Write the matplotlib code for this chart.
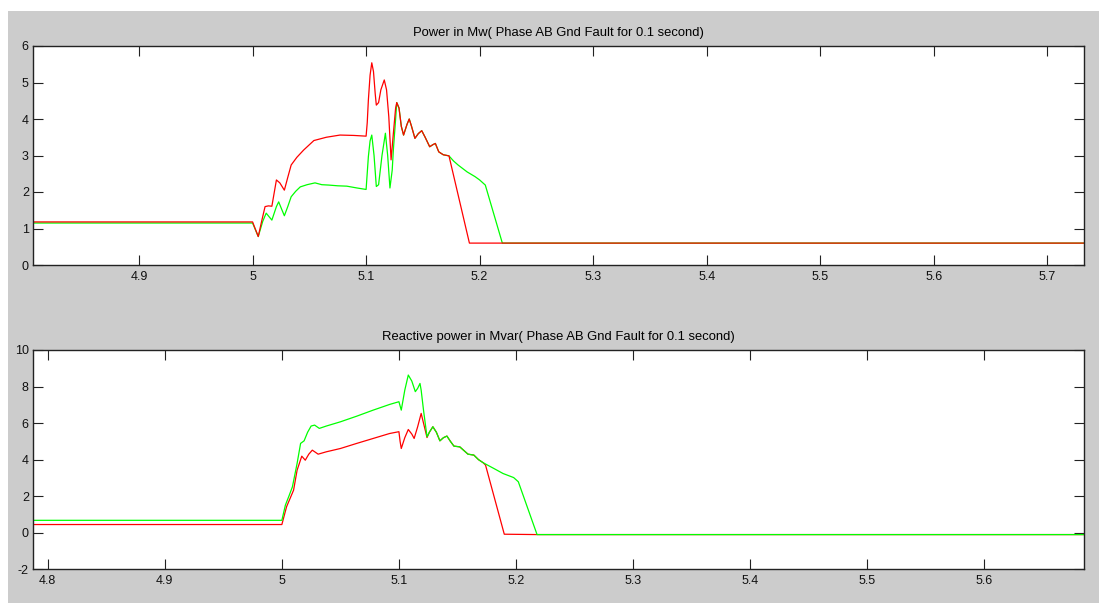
import numpy as np
import matplotlib
matplotlib.use('Agg')
import matplotlib.pyplot as plt
from matplotlib.patches import Rectangle

plt.rcParams['font.family'] = ['Liberation Sans', 'DejaVu Sans']
plt.rcParams['axes.unicode_minus'] = False

# ---- top plot: active power (MW) ----
t_p_red = [4.75, 5.0, 5.005, 5.008, 5.011, 5.014, 5.017, 5.021, 5.024, 5.028, 5.031,
           5.034, 5.039, 5.045, 5.054, 5.065, 5.077, 5.089, 5.1, 5.101, 5.102, 5.1035,
           5.105, 5.1065, 5.108, 5.109, 5.111, 5.113, 5.116, 5.118, 5.120, 5.122, 5.124,
           5.126]
p_red = [1.18, 1.18, 0.78, 1.2, 1.6, 1.62, 1.61, 2.33, 2.25, 2.05, 2.4,
         2.74, 2.95, 3.15, 3.41, 3.50, 3.56, 3.55, 3.53, 3.9, 4.52, 5.2,
         5.54, 5.3, 4.7, 4.38, 4.45, 4.8, 5.07, 4.8, 4.06, 2.88, 3.6,
         4.3]

t_p_green = [4.75, 5.0, 5.005, 5.009, 5.012, 5.017, 5.021, 5.023, 5.026, 5.028, 5.031,
             5.034, 5.038, 5.042, 5.048, 5.055, 5.061, 5.067, 5.075, 5.083, 5.092, 5.1,
             5.102, 5.1035, 5.105, 5.107, 5.109, 5.111, 5.114, 5.117, 5.119, 5.121, 5.123,
             5.124, 5.126]
p_green = [1.15, 1.15, 0.78, 1.2, 1.42, 1.23, 1.6, 1.73, 1.5, 1.35, 1.6,
           1.87, 2.02, 2.14, 2.2, 2.25, 2.2, 2.19, 2.17, 2.16, 2.11, 2.07,
           2.97, 3.4, 3.56, 3.0, 2.15, 2.2, 3.0, 3.61, 3.0, 2.11, 2.6,
           3.15, 4.0]

# common part after the fault clears (both traces overlap)
t_p_common = [5.127, 5.129, 5.131, 5.133, 5.136, 5.138, 5.140, 5.143, 5.146, 5.149,
              5.152, 5.156, 5.159, 5.161, 5.164, 5.168, 5.173]
p_common = [4.45, 4.3, 3.8, 3.56, 3.85, 4.0, 3.8, 3.47, 3.6, 3.68,
            3.5, 3.24, 3.3, 3.33, 3.1, 3.02, 2.99]

t_p_red_end = [5.191, 5.75]
p_red_end = [0.60, 0.60]
t_p_green_end = [5.177, 5.181, 5.189, 5.196, 5.2, 5.205, 5.22, 5.75]
p_green_end = [2.85, 2.74, 2.55, 2.42, 2.33, 2.19, 0.60, 0.60]

# ---- bottom plot: reactive power (Mvar) ----
t_q_green = [4.75, 5.0, 5.003, 5.006, 5.009, 5.013, 5.016, 5.019, 5.022, 5.025, 5.028,
             5.032, 5.038, 5.05, 5.064, 5.078, 5.092, 5.1, 5.102, 5.105, 5.108, 5.111,
             5.114, 5.116, 5.118, 5.119, 5.121, 5.124]
q_green = [0.68, 0.68, 1.51, 2.0, 2.51, 3.79, 4.89, 5.03, 5.5, 5.84, 5.89,
           5.71, 5.84, 6.07, 6.38, 6.71, 7.02, 7.17, 6.71, 7.8, 8.63, 8.3,
           7.72, 7.9, 8.17, 7.8, 6.71, 5.25]

t_q_red = [4.75, 5.0, 5.004, 5.01, 5.013, 5.017, 5.02, 5.023, 5.026, 5.031, 5.038,
           5.05, 5.064, 5.078, 5.092, 5.1, 5.101, 5.102, 5.105, 5.108, 5.111, 5.113,
           5.116, 5.119, 5.121, 5.124]
q_red = [0.45, 0.45, 1.42, 2.33, 3.42, 4.19, 3.97, 4.3, 4.52, 4.30, 4.43,
         4.61, 4.89, 5.16, 5.43, 5.53, 5.0, 4.61, 5.2, 5.65, 5.4, 5.16,
         5.8, 6.53, 6.0, 5.21]

t_q_common = [5.126, 5.129, 5.132, 5.135, 5.138, 5.141, 5.144, 5.147, 5.152, 5.159,
              5.164, 5.168, 5.172]
q_common = [5.5, 5.80, 5.5, 5.03, 5.2, 5.29, 5.0, 4.74, 4.70, 4.30,
            4.25, 4.0, 3.83]

t_q_red_end = [5.174, 5.19, 5.218, 5.75]
q_red_end = [3.70, -0.08, -0.1, -0.1]
t_q_green_end = [5.181, 5.189, 5.198, 5.202, 5.218, 5.75]
q_green_end = [3.52, 3.24, 3.02, 2.79, -0.10, -0.10]

W, H = 1099, 603
fig = plt.figure(figsize=(W / 100, H / 100), dpi=100, facecolor='#cccccc')
# white strips at top and left edge of the captured window
fig.patches.append(Rectangle((0, 1 - 11 / H), 1, 11 / H, transform=fig.transFigure,
                             facecolor='white', edgecolor='none', zorder=-5))
fig.patches.append(Rectangle((0, 0), 8 / W, 1, transform=fig.transFigure,
                             facecolor='white', edgecolor='none', zorder=-5))


def style(ax):
    for s in ax.spines.values():
        s.set_color('#222222')
        s.set_linewidth(1.0)
    ax.tick_params(direction='in', length=7, width=0.8, top=True, right=True,
                   labelsize=9, colors='#222222', labelcolor='#111111', pad=4)
    ax.tick_params(axis='y', pad=3)


ax1 = fig.add_axes([33 / W, 1 - 265 / H, (1084.3 - 33) / W, (265 - 46) / H])
ax1.plot(t_p_green + t_p_common + t_p_green_end, p_green + p_common + p_green_end,
         color='#00ff00', lw=0.9)
ax1.plot(t_p_red + t_p_common + t_p_red_end, p_red + p_common + p_red_end,
         color='#ff0000', lw=0.9)
ax1.set_xlim(4.8066, 5.7326)
ax1.set_ylim(0, 6)
ax1.set_xticks(np.arange(4.9, 5.75, 0.1))
ax1.set_xticklabels(['4.9', '5', '5.1', '5.2', '5.3', '5.4', '5.5', '5.6', '5.7'])
ax1.set_yticks(range(0, 7))
ax1.set_title('Power in Mw( Phase AB Gnd Fault for 0.1 second)', fontsize=9.4, pad=7)
style(ax1)

ax2 = fig.add_axes([33 / W, 1 - 569.3 / H, (1084.3 - 33) / W, (569.3 - 350) / H])
ax2.plot(t_q_red + t_q_common + t_q_red_end, q_red + q_common + q_red_end,
         color='#ff0000', lw=0.9)
ax2.plot(t_q_green + t_q_common + t_q_green_end, q_green + q_common + q_green_end,
         color='#00ff00', lw=0.9)
ax2.set_xlim(4.7874, 5.6855)
ax2.set_ylim(-2, 10)
ax2.set_xticks(np.arange(4.8, 5.65, 0.1))
ax2.set_xticklabels(['4.8', '4.9', '5', '5.1', '5.2', '5.3', '5.4', '5.5', '5.6'])
ax2.set_yticks(range(-2, 11, 2))
ax2.set_title('Reactive power in Mvar( Phase AB Gnd Fault for 0.1 second)', fontsize=9.4, pad=7)
style(ax2)

fig.savefig('out.png', dpi=100, facecolor=fig.get_facecolor())
